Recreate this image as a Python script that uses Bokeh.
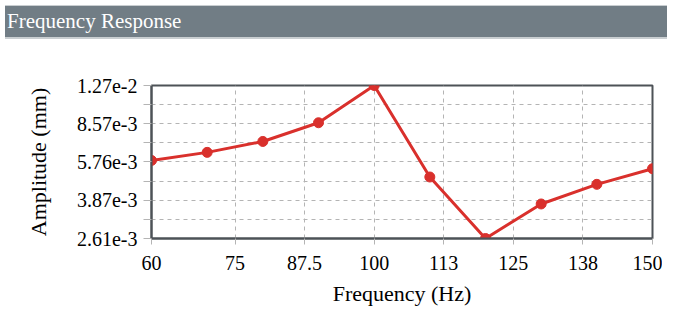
import math
from bokeh.plotting import figure
from bokeh.layouts import column
from bokeh.models import FixedTicker, Range1d, Div
from bokeh.embed import file_html
from bokeh.resources import INLINE

# ---- data ----
freq = [60, 70, 80, 90, 100, 110, 120, 130, 140, 150]
amp = [5.85e-3, 6.36e-3, 7.12e-3, 8.64e-3, 1.27e-2, 4.93e-3, 2.61e-3, 3.73e-3, 4.57e-3, 5.37e-3]

x_ticks = [60, 75, 87.5, 100, 112.5, 125, 137.5, 150]
x_tick_labels = ["60", "75", "87.5", "100", "113", "125", "138", "150"]
y_ticks = [2.61e-3, 3.87e-3, 5.76e-3, 8.57e-3, 1.27e-2]
y_tick_labels = ["2.61e-3", "3.87e-3", "5.76e-3", "8.57e-3", "1.27e-2"]

title_text = "Frequency Response"
x_label = "Frequency (Hz)"
y_label = "Amplitude (mm)"

FONT = "Liberation Serif"
W = 662

# ---- title bar ----
bar = Div(text=title_text, width=W, height=34,
          styles={"background-color": "#717d85", "color": "white",
                  "font-family": FONT, "font-size": "21px",
                  "line-height": "31px", "padding-left": "2px",
                  "box-sizing": "border-box",
                  "border-top": "1px solid #c9ced1", "border-bottom": "2px solid #c9ced1"})

# ---- main plot ----
p = figure(width=W, height=264, output_backend="svg", toolbar_location=None,
           y_axis_type="log",
           x_range=Range1d(x_ticks[0], x_ticks[-1]),
           y_range=Range1d(y_ticks[0], y_ticks[-1]),
           min_border_left=151, min_border_right=10, min_border_top=41, min_border_bottom=65,
           background_fill_color="white", border_fill_color="white")

minor_y = [math.sqrt(a * b) for a, b in zip(y_ticks[:-1], y_ticks[1:])]
p.xaxis.ticker = FixedTicker(ticks=x_ticks, minor_ticks=[])
p.yaxis.ticker = FixedTicker(ticks=y_ticks, minor_ticks=minor_y)
p.xaxis.major_label_overrides = dict(zip(x_ticks, x_tick_labels))
p.yaxis.major_label_overrides = dict(zip(y_ticks, y_tick_labels))

p.outline_line_color = "#4d5257"
p.outline_line_width = 2
for ax in (p.xaxis, p.yaxis):
    ax.axis_line_color = "#4d5257"
    ax.axis_line_width = 2
    ax.major_tick_line_color = "#b4b4b4"
    ax.minor_tick_line_color = "#b4b4b4"
    ax.major_tick_in = 0
    ax.minor_tick_in = 0
    ax.major_label_text_font = FONT
    ax.major_label_text_font_size = "20px"
    ax.major_label_text_color = "black"
    ax.axis_label_text_font = FONT
    ax.axis_label_text_font_size = "22px"
    ax.axis_label_text_font_style = "normal"
    ax.axis_label_text_color = "black"

p.xaxis.major_tick_out = 6
p.xaxis.minor_tick_out = 0
p.xaxis.major_label_standoff = 11
p.xaxis.axis_label = x_label
p.xaxis.axis_label_standoff = 8

p.yaxis.major_tick_out = 8
p.yaxis.minor_tick_out = 8
p.yaxis.major_label_standoff = 6
p.yaxis.axis_label = y_label
p.yaxis.axis_label_standoff = 23

p.xgrid.grid_line_color = "#b4b4b4"
p.xgrid.grid_line_dash = "4 4"
p.ygrid.grid_line_color = "#b4b4b4"
p.ygrid.grid_line_dash = "4 4"
p.ygrid.minor_grid_line_color = "#b4b4b4"
p.ygrid.minor_grid_line_dash = "4 4"

p.line(freq, amp, line_color="#d9302c", line_width=3)
p.scatter(freq, amp, size=10, fill_color="#d9302c", line_color="#d9302c")

layout = column(bar, p, spacing=0)
open("out.html", "w").write(file_html(layout, INLINE))
